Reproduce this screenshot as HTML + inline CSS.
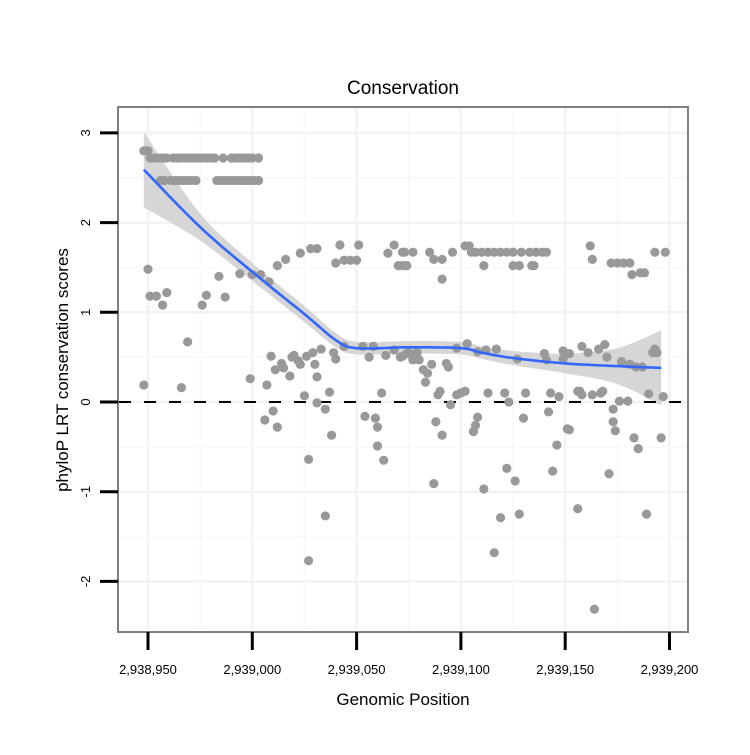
<!DOCTYPE html>
<html><head><meta charset="utf-8"><style>
html,body{margin:0;padding:0;background:#fff;}
svg text{font-family:"Liberation Sans",sans-serif;}
</style></head><body>
<svg id="chart" width="750" height="750" xmlns="http://www.w3.org/2000/svg">
<rect x="0" y="0" width="750" height="750" fill="#fff"/>
<text x="403" y="94" text-anchor="middle" font-size="19">Conservation</text>
<text x="403" y="705" text-anchor="middle" font-size="17">Genomic Position</text>
<text x="68" y="370" text-anchor="middle" font-size="17" transform="rotate(-90 68 370)">phyloP LRT conservation scores</text>
<g id="grid"></g>
<g id="band"></g>
<g id="pts"></g>
<g id="smooth"></g>
<g id="axes"></g>
</svg>
<script>
const B = 2938950;
const xTicks = [2938950, 2939000, 2939050, 2939100, 2939150, 2939200];
const xTickLabels = ["2,938,950","2,939,000","2,939,050","2,939,100","2,939,150","2,939,200"];
const yTicks = [-2, -1, 0, 1, 2, 3];
const yTickLabels = ["-2","-1","0","1","2","3"];
// point offsets from 2,938,950 and scores
const ptX = [-2,0,
 1,3,5,7,9,12,14,16,18,20,22,24,26,28,30,32,36,40,42,44,46,48,50,53,
 6,8,11,13,15,17,19,21,23,33,35,37,39,41,43,45,47,49,51,53,
 0,1,4,9,7,19,26,28,37,34,44,50,54,58,62,66,73,78,81,92,101,90,94,97,100,115,118,122,120,124,
 123,127,135,141,146,152,154,155,157,160,163,166,169,172,175,179,183,186,189,191,212,243,248,
 122,124,161,175,178,184,185,213,222,225,228,231,232,236,238,
 141,137,
 148,153,158,162,167,177,190,191,199,202,199,208,211,216,219,220,227,231,234,237,243,244,242,
 122,125,127,129,130,127,132,134,133,136,143,144,
 140,139,148,150,152,145,163,171,173,181,193,197,206,207,208,213,217,218,223,226,230,240,247,
 138,141,158,157,156,180,192,201,202,196,223,224,233,246,235,
 172,194,221,137,176,161,169,178,206,239,166,214,
 -2,16,49,57,59,61,64,65,68,69,70,72,73,76,79,80,83,81,87,75,81,85,60,62,56,88,77,85,77,112,104,109,110,110,113,
 89,90,94,103,108,106,114,118,121,124];
const ptY = [2.80,2.80,
 2.72,2.72,2.72,2.72,2.72,2.72,2.72,2.72,2.72,2.72,2.72,2.72,2.72,2.72,2.72,2.72,2.72,2.72,2.72,2.72,2.72,2.72,2.72,2.72,
 2.47,2.47,2.47,2.47,2.47,2.47,2.47,2.47,2.47,2.47,2.47,2.47,2.47,2.47,2.47,2.47,2.47,2.47,2.47,2.47,
 1.48,1.18,1.18,1.22,1.08,0.67,1.08,1.19,1.17,1.40,1.43,1.42,1.42,1.34,1.52,1.59,1.66,1.71,1.71,1.75,1.75,1.55,1.58,1.58,1.58,1.66,1.75,1.67,1.52,1.52,
 1.67,1.67,1.67,1.59,1.67,1.74,1.74,1.67,1.67,1.67,1.67,1.67,1.67,1.67,1.67,1.67,1.67,1.67,1.67,1.67,1.74,1.67,1.67,
 1.52,1.52,1.52,1.52,1.52,1.52,1.52,1.59,1.55,1.55,1.55,1.55,1.42,1.44,1.44,
 1.37,1.59,
 0.60,0.65,0.56,0.58,0.59,0.48,0.54,0.47,0.57,0.54,0.48,0.62,0.55,0.59,0.64,0.50,0.45,0.42,0.39,0.39,0.59,0.55,0.55,
 0.51,0.55,0.50,0.55,0.47,0.47,0.36,0.32,0.22,0.42,0.43,0.39,
 0.12,0.08,0.08,0.10,0.12,-0.03,0.10,0.10,0.00,0.10,0.10,0.06,0.12,0.12,0.08,0.08,0.10,0.12,-0.08,0.01,0.01,0.09,0.06,
 -0.22,-0.37,-0.17,-0.26,-0.33,-0.18,-0.11,-0.30,-0.31,-0.48,-0.22,-0.32,-0.40,-0.40,-0.52,
 -0.74,-0.77,-0.80,-0.91,-0.88,-0.97,-1.29,-1.25,-1.19,-1.25,-1.68,-2.31,
 0.19,0.16,0.26,0.19,0.51,0.36,0.43,0.38,0.29,0.50,0.52,0.46,0.42,0.51,0.55,0.42,0.59,0.28,0.11,0.07,-0.01,-0.08,-0.10,-0.28,-0.20,-0.37,-0.64,-1.27,-1.77,0.10,-0.16,-0.18,-0.28,-0.49,-0.65,
 0.55,0.48,0.62,0.62,0.62,0.50,0.52,0.58,0.50,0.54];
const fitX = [-2,25,50,75,90,100,125,150,160,175,200,225,246];
const fitY = [2.59,1.95,1.45,0.98,0.69,0.60,0.61,0.60,0.55,0.49,0.43,0.40,0.38];
const fitSE = [0.42,0.15,0.10,0.09,0.08,0.07,0.07,0.07,0.07,0.08,0.11,0.20,0.42];

const X0 = 148, XS = 2.086, Y0 = 402, YS = 89.7;
const sx = v => X0 + (v - B) * XS;
const sxo = o => X0 + o * XS;
const sy = v => Y0 - v * YS;
const NS = "http://www.w3.org/2000/svg";
function mk(tag, attrs, parent){ const e=document.createElementNS(NS,tag); for(const k in attrs) e.setAttribute(k,attrs[k]); parent.appendChild(e); return e; }
const PL=118, PR=688, PT=107, PB=632;
const grid=document.getElementById('grid');
for(let i=0;i<xTicks.length;i++){
  const x=sx(xTicks[i]);
  const l=mk('line',{x1:x,x2:x,y1:PT,y2:PB,stroke:'#f2f2f2','stroke-width':2.5},grid);
  
  
  if(i<xTicks.length-1){ const xm=sx((xTicks[i]+xTicks[i+1])/2);
    const m=mk('line',{x1:xm,x2:xm,y1:PT,y2:PB,stroke:'#f8f8f8','stroke-width':1.5},grid);
    
     }
}
for(let i=0;i<yTicks.length;i++){
  const y=sy(yTicks[i]);
  const l=mk('line',{x1:PL,x2:PR,y1:y,y2:y,stroke:'#f2f2f2','stroke-width':2.5},grid);
  
  
  for(const d of [-0.5,0.5]){
    const ym=sy(yTicks[i]+d);
    if(ym<=PT+2||ym>=PB-2) continue;
    if(d<0 && i>0) continue;
    const m=mk('line',{x1:PL,x2:PR,y1:ym,y2:ym,stroke:'#f8f8f8','stroke-width':1.5},grid);
    
    
  }
}
const n=fitX.length, up=[], lo=[], mid=[];
function catmull(pts){
  const out=[];
  for(let i=0;i<pts.length-1;i++){
    const p0=pts[Math.max(i-1,0)],p1=pts[i],p2=pts[i+1],p3=pts[Math.min(i+2,pts.length-1)];
    for(let t=0;t<1;t+=0.1){
      const t2=t*t,t3=t2*t;
      out.push([0.5*((2*p1[0])+(-p0[0]+p2[0])*t+(2*p0[0]-5*p1[0]+4*p2[0]-p3[0])*t2+(-p0[0]+3*p1[0]-3*p2[0]+p3[0])*t3),
                0.5*((2*p1[1])+(-p0[1]+p2[1])*t+(2*p0[1]-5*p1[1]+4*p2[1]-p3[1])*t2+(-p0[1]+3*p1[1]-3*p2[1]+p3[1])*t3)]);
    }
  }
  out.push(pts[pts.length-1]); return out;
}
for(let i=0;i<n;i++){ up.push([sxo(fitX[i]),sy(fitY[i]+fitSE[i])]); lo.push([sxo(fitX[i]),sy(fitY[i]-fitSE[i])]); mid.push([sxo(fitX[i]),sy(fitY[i])]); }
const U=catmull(up), L=catmull(lo).reverse(), M=catmull(mid);
const bp=mk('path',{d:'M'+U.concat(L).map(p=>p[0].toFixed(1)+','+p[1].toFixed(1)).join('L')+'Z',fill:'#d6d6d6'},document.getElementById('band'));


const z=mk('line',{x1:PL,x2:PR,y1:sy(0),y2:sy(0),stroke:'#000','stroke-width':2,'stroke-dasharray':'12,13','stroke-dashoffset':'-1'},document.getElementById('pts'));


const pg=document.getElementById('pts');
for(let i=0;i<ptX.length;i++){
  const c=mk('circle',{cx:sxo(ptX[i]),cy:sy(ptY[i]),r:4.6,fill:'#999999'},pg);
  
  
}
const sp=mk('path',{d:'M'+M.map(p=>p[0].toFixed(1)+','+p[1].toFixed(1)).join('L'),fill:'none',stroke:'#3366ff','stroke-width':2.6},document.getElementById('smooth'));


const ax=document.getElementById('axes');
const fr=mk('rect',{x:PL,y:PT,width:PR-PL,height:PB-PT,fill:'none',stroke:'#808080','stroke-width':2},ax);


for(let i=0;i<xTicks.length;i++){
  const x=sx(xTicks[i]);
  const t=mk('line',{x1:x,x2:x,y1:PB,y2:PB+18,stroke:'#000','stroke-width':3},ax);
  
  
  const tx=mk('text',{x:x,y:674,'text-anchor':'middle','font-size':13},ax);
  tx.textContent=xTickLabels[i];
  
  
}
for(let i=0;i<yTicks.length;i++){
  const y=sy(yTicks[i]);
  const t=mk('line',{x1:PL-18,x2:PL,y1:y,y2:y,stroke:'#000','stroke-width':3},ax);
  
  
  const tx=mk('text',{x:90,y:y,'text-anchor':'middle','font-size':13,transform:`rotate(-90 90 ${y})`},ax);
  tx.textContent=yTickLabels[i];
  
  
}
</script>
</body></html>
